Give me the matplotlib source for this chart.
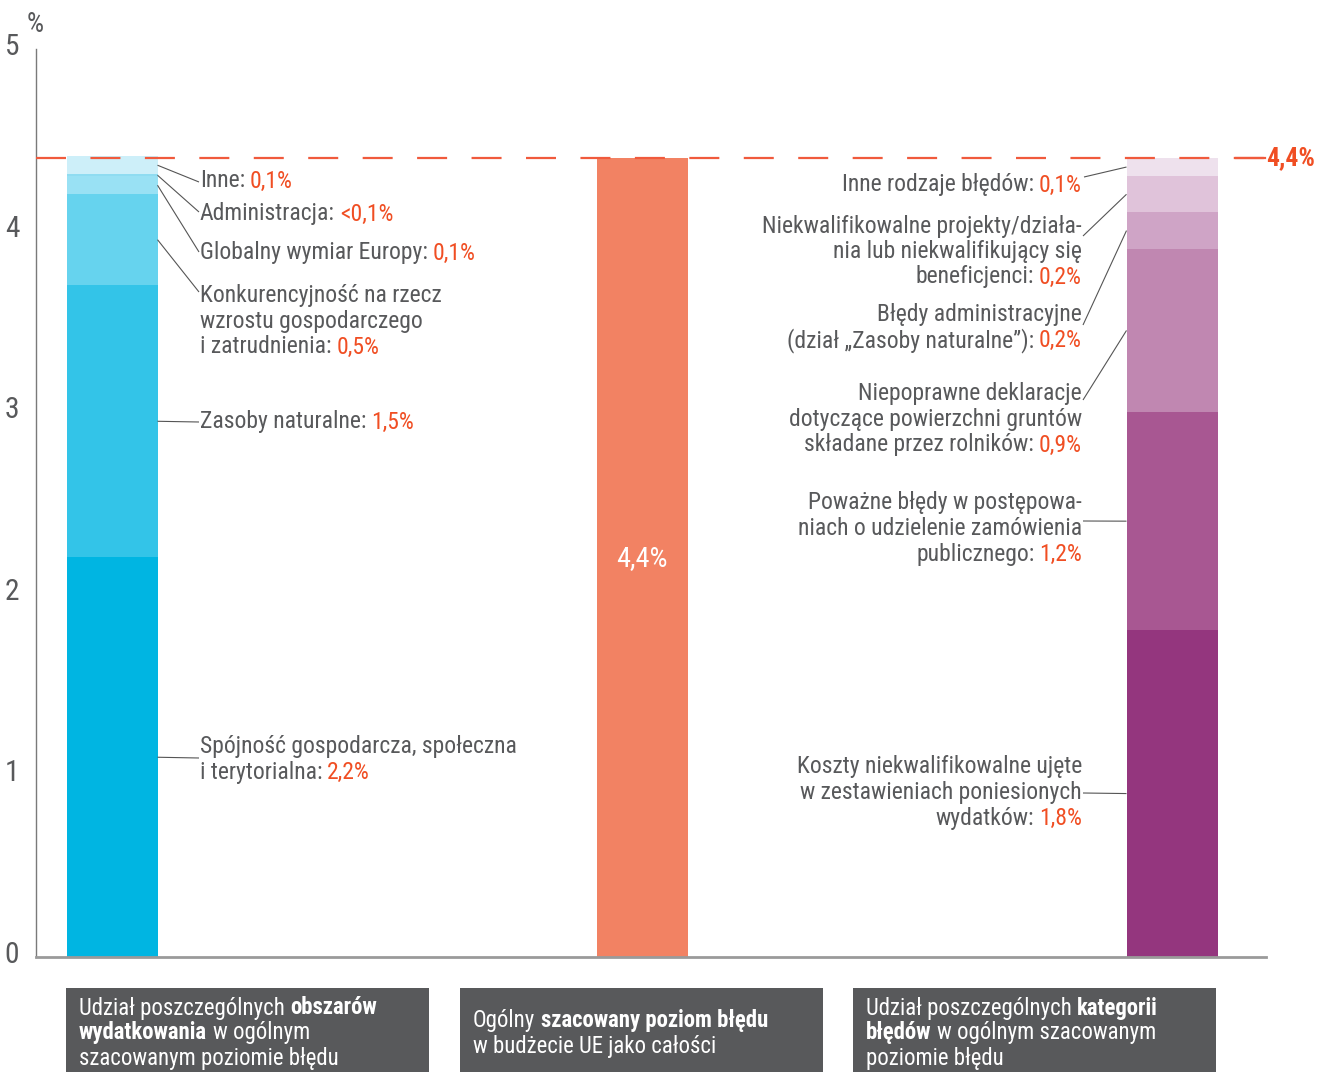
import matplotlib
matplotlib.use('Agg')
import matplotlib.pyplot as plt
import matplotlib.patches as mpatches
import matplotlib.transforms as mtransforms
from matplotlib.text import Annotation
from matplotlib import font_manager as fm
import numpy as np

# ---------------- data ----------------
area_names = ["Spójność gospodarcza, społeczna\ni terytorialna:",
              "Zasoby naturalne:",
              "Konkurencyjność na rzecz\nwzrostu gospodarczego\ni zatrudnienia:",
              "Globalny wymiar Europy:",
              "Administracja:",
              "Inne:"]
area_values = [2.2, 1.5, 0.5, 0.1, 0.01, 0.1]
area_value_labels = ["2,2%", "1,5%", "0,5%", "0,1%", "<0,1%", "0,1%"]
area_colors = ["#00b5e2", "#33c4e8", "#66d3ee", "#99e1f4", "#8fdcf1", "#cdeff9"]

total_value = [4.4]
total_label = "4,4%"
total_color = "#f28263"

error_names = ["Koszty niekwalifikowalne ujęte\nw zestawieniach poniesionych\nwydatków:",
               "Poważne błędy w postępowa-\nniach o udzielenie zamówienia\npublicznego:",
               "Niepoprawne deklaracje\ndotyczące powierzchni gruntów\nskładane przez rolników:",
               "Błędy administracyjne\n(dział „Zasoby naturalne”):",
               "Niekwalifikowalne projekty/działa-\nnia lub niekwalifikujący się\nbeneficjenci:",
               "Inne rodzaje błędów:"]
error_values = [1.8, 1.2, 0.9, 0.2, 0.2, 0.1]
error_value_labels = ["1,8%", "1,2%", "0,9%", "0,2%", "0,2%", "0,1%"]
error_colors = ["#94367e", "#a85792", "#c087b1", "#cfa4c6", "#e0c3da", "#eee1ed"]

reference_level = 4.4
reference_label = "4,4%"

y_ticks = [0, 1, 2, 3, 4, 5]
y_tick_labels = ["0", "1", "2", "3", "4", "5"]

box_lines = [
    [[("Udział poszczególnych", False), ("obszarów", True)],
     [("wydatkowania", True), ("w ogólnym", False)],
     [("szacowanym poziomie błędu", False)]],
    [[("Ogólny", False), ("szacowany poziom błędu", True)],
     [("w budżecie UE jako całości", False)]],
    [[("Udział poszczególnych", False), ("kategorii", True)],
     [("błędów", True), ("w ogólnym szacowanym", False)],
     [("poziomie błędu", False)]],
]

# ---------------- font selection ----------------
entries = fm.fontManager.ttflist
names = {f.name for f in entries}
family = None
stretch = "normal"
for cand in ["Liberation Sans Narrow", "Roboto Condensed", "Open Sans Condensed",
             "Noto Sans Condensed", "DejaVu Sans Condensed", "Arial Narrow"]:
    if cand in names:
        family = cand
        break
if family is None:
    for cand in ["Open Sans", "Noto Sans", "Roboto", "DejaVu Sans", "Liberation Sans", "Lato", "Inter"]:
        cf = [f for f in entries if f.name == cand and f.stretch in
              ("condensed", "semi-condensed", "extra-condensed", "ultra-condensed")]
        if cf:
            family = cand
            stretch = "condensed"
            break
if family is None:
    family = "Roboto" if "Roboto" in names else "DejaVu Sans"

plt.rcParams['font.family'] = [family, 'DejaVu Sans']
plt.rcParams['font.stretch'] = stretch

# ---------------- layout ----------------
W, H = 1318, 1072
GRAY = "#58595b"
RED = "#f04e23"

fig = plt.figure(figsize=(W / 100, H / 100), dpi=100)
renderer = fig.canvas.get_renderer()
probe = fig.text(0, 0, "Konkurencyjność na rzecz", fontsize=10)
pw = probe.get_window_extent(renderer).width
probe.remove()
FS = min(18.0, 10 * 228.0 / pw * 1.06)
FS_BOX = min(18.0, 10 * 228.0 / pw * 1.02)

ax = fig.add_axes([36 / W, (H - 957) / H, 1230 / W, 908 / H])
X0, PXX = 112, 530.0
Y0, PXY = 957, 181.6
ax.set_xlim((36 - X0) / PXX, (1266 - X0) / PXX)
ax.set_ylim(0, 5)


def px2d(px, py):
    return (px - X0) / PXX, (Y0 - py) / PXY


bw = 91 / PXX
bottom = 0
area_mids = []
for v, c in zip(area_values, area_colors):
    ax.bar(0, v, bottom=bottom, width=bw, color=c, linewidth=0, zorder=2)
    area_mids.append(bottom + v / 2)
    bottom += v
ax.bar(1, total_value[0], width=bw, color=total_color, linewidth=0, zorder=2)
bottom = 0
error_mids = []
for v, c in zip(error_values, error_colors):
    ax.bar(2, v, bottom=bottom, width=bw, color=c, linewidth=0, zorder=2)
    error_mids.append(bottom + v / 2)
    bottom += v

ax.text(1, total_value[0] / 2 - 0.005, total_label, color="white", fontsize=FS * 1.2,
        ha="center", va="center", zorder=3)

# reference dashed line
ax.axhline(reference_level, color="#f05a3c", lw=1.6, dashes=(13.5, 11), zorder=3)
xs0, _ = px2d(1236, 0)
xs1, _ = px2d(1265, 0)
ax.plot([xs0, xs1], [reference_level, reference_level], color="#f05a3c", lw=1.6,
        zorder=3, clip_on=False)
ref_fs = FS * 1.2
ref_txt = fig.text(1266 / W, 1 - 158 / H, reference_label, color=RED, fontsize=ref_fs,
                   fontweight="bold", ha="left", va="center")
ext = ref_txt.get_window_extent(renderer)
if ext.x1 > W - 3:
    ref_txt.set_fontsize(ref_fs * (W - 3 - 1266) / ext.width)

# spines and ticks
for s in ["top", "right"]:
    ax.spines[s].set_visible(False)
ax.spines["left"].set_color("#7a7a7a")
ax.spines["left"].set_linewidth(1.0)
ax.spines["bottom"].set_color("#9a9a9a")
ax.spines["bottom"].set_linewidth(2.0)
ax.set_xticks([])
ax.set_yticks(y_ticks)
ax.set_yticklabels(y_tick_labels, color=GRAY, fontsize=FS * 1.25)
ax.tick_params(axis="y", length=0, pad=12)
off = mtransforms.ScaledTranslation(0, 5 / 100, fig.dpi_scale_trans)
for lab in ax.get_yticklabels():
    lab.set_transform(lab.get_transform() + off)
fig.text(27 / W, 1 - 25 / H, "%", color=GRAY, fontsize=FS * 1.15, ha="left", va="center")

LS = 25.5  # line spacing in px


def left_label(name, value, x_px, first_y_px):
    lines = name.split("\n")
    t = None
    for i, ln in enumerate(lines):
        x, y = px2d(x_px, first_y_px + i * LS)
        t = ax.text(x, y, ln, color=GRAY, fontsize=FS, ha="left", va="center", zorder=4)
    ax.annotate(value, xy=(1, 0.5), xycoords=t, xytext=(3.5, 0), textcoords="offset points",
                color=RED, fontsize=FS, ha="left", va="center", zorder=4)


def right_label(name, value, x_px, first_y_px):
    lines = name.split("\n")
    n = len(lines)
    for i, ln in enumerate(lines[:-1]):
        x, y = px2d(x_px, first_y_px + i * LS)
        ax.text(x, y, ln, color=GRAY, fontsize=FS, ha="right", va="center", zorder=4)
    x, y = px2d(x_px, first_y_px + (n - 1) * LS)
    r = ax.text(x, y, value, color=RED, fontsize=FS, ha="right", va="center", zorder=4)
    ax.annotate(lines[-1], xy=(0, 0.5), xycoords=r, xytext=(-3.5, 0), textcoords="offset points",
                color=GRAY, fontsize=FS, ha="right", va="center", zorder=4)


def leader(x_start, y_start, end_px):
    xe, ye = px2d(*end_px)
    ax.plot([x_start, xe], [y_start, ye], color="#555555", lw=0.8, zorder=3,
            clip_on=False, solid_capstyle="butt")


left_layout = [(747, (199, 758)), (422, (199, 422)), (296, (199, 292)),
               (253, (199, 252)), (214, (199, 212)), (181, (199, 182))]
for name, val, mid, (fy, end) in zip(area_names, area_value_labels, area_mids, left_layout):
    left_label(name, val, 200, fy)
    leader(bw / 2, mid, end)

right_layout = [(767, (1083, 793)), (503, (1083, 521)), (394, (1083, 400)),
                (315, (1083, 325)), (226, (1083, 236)), (185, (1084, 177))]
for name, val, mid, (fy, end) in zip(error_names, error_value_labels, error_mids, right_layout):
    right_label(name, val, 1082, fy)
    leader(2 - bw / 2, mid, end)

# bottom boxes
boxes = [(66, 429), (460, 823), (853, 1216)]
box_first_y = [1008, 1021, 1008]
for (bx0, bx1), lines, fy in zip(boxes, box_lines, box_first_y):
    fig.add_artist(mpatches.Rectangle((bx0 / W, 0), (bx1 - bx0) / W, (H - 988) / H,
                                      transform=fig.transFigure, color=GRAY, lw=0, zorder=1))
    for i, pieces in enumerate(lines):
        y = 1 - (fy + i * 25) / H
        prev = None
        for txt, bold in pieces:
            kw = dict(color="white", fontsize=FS_BOX, fontweight="bold" if bold else "normal",
                      va="center", ha="left", zorder=5)
            if prev is None:
                prev = fig.text((bx0 + 13) / W, y, txt, **kw)
            else:
                a = Annotation(txt, xy=(1, 0.5), xycoords=prev, xytext=(4, 0),
                               textcoords="offset points", annotation_clip=False, **kw)
                fig.add_artist(a)
                prev = a

fig.savefig("out.png", dpi=100)
